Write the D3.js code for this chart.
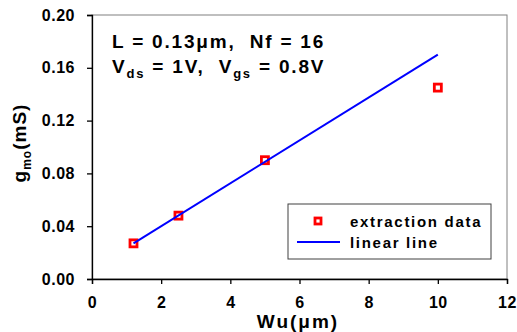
<!DOCTYPE html>
<html>
<head>
<meta charset="utf-8">
<script src="https://cdn.jsdelivr.net/npm/d3@7"></script>
<style>
  body { margin: 0; background: #fff; }
  svg { font-family: "Liberation Sans", Arial, sans-serif; font-weight: bold; }
  text { white-space: pre; }
</style>
</head>
<body>
<div id="chart"></div>
<script>
// extraction data (Wu in um, gmo in mS)
const wuValues = [1.2, 2.5, 5, 10];
const gmoValues = [0.027, 0.048, 0.09, 0.145];

// linear fit line end points
const lineWu = [1.2, 10];
const lineGmo = [0.027, 0.170];

const xTicks = [0, 2, 4, 6, 8, 10, 12];
const yTicks = [0, 0.04, 0.08, 0.12, 0.16, 0.20];

const W = 517, H = 332;
const margin = {top: 15, right: 10, bottom: 53, left: 92};
const width = W - margin.left - margin.right;
const height = H - margin.top - margin.bottom;

const svg = d3.select("#chart").append("svg")
    .attr("width", W)
    .attr("height", H);

const g = svg.append("g")
    .attr("transform", `translate(${margin.left},${margin.top})`);

const x = d3.scaleLinear().domain([0, 12]).range([0, width]);
const y = d3.scaleLinear().domain([0, 0.20]).range([height, 0]);

// plot frame
g.append("rect")
    .attr("width", width)
    .attr("height", height)
    .attr("fill", "none")
    .attr("stroke", "#808080")
    .attr("stroke-width", 1);

// axes
const xAxis = g.append("g")
    .attr("transform", `translate(0,${height})`)
    .call(d3.axisBottom(x).tickValues(xTicks).tickFormat(d3.format("d")).tickSize(5).tickPadding(13));

const yAxis = g.append("g")
    .call(d3.axisLeft(y).tickValues(yTicks).tickFormat(d3.format(".2f")).tickSize(5).tickPadding(12));

[xAxis, yAxis].forEach(a => {
    a.select(".domain").attr("stroke", "#000").attr("stroke-width", 1.3);
    a.selectAll(".tick line").attr("stroke", "#000").attr("stroke-width", 1.3);
    a.selectAll(".tick text")
        .attr("fill", "#000")
        .style("font-size", "16px")
        .style("font-weight", "bold")
        .style("font-family", "'Liberation Sans', Arial, sans-serif")
        .style("letter-spacing", "0.5px");
});

// markers
const pts = wuValues.map((d, i) => ({wu: d, gmo: gmoValues[i]}));
g.selectAll(".pt")
    .data(pts)
    .enter().append("rect")
    .attr("class", "pt")
    .attr("x", d => x(d.wu) - 3.5)
    .attr("y", d => y(d.gmo) - 3.5)
    .attr("width", 7)
    .attr("height", 7)
    .attr("fill", "#fff")
    .attr("stroke", "#ff0000")
    .attr("stroke-width", 2.8);

// linear line
const linePts = lineWu.map((d, i) => [d, lineGmo[i]]);
g.append("path")
    .datum(linePts)
    .attr("fill", "none")
    .attr("stroke", "#0000ff")
    .attr("stroke-width", 2)
    .attr("d", d3.line().x(d => x(d[0])).y(d => y(d[1])));

// annotation
const ann = svg.append("g").style("font-size", "19px").style("letter-spacing", "1.8px");
ann.append("text").attr("x", 112).attr("y", 48).text("L = 0.13\u03bcm,  Nf = 16");
const t2 = ann.append("text").attr("x", 112).attr("y", 73);
t2.append("tspan").text("V");
t2.append("tspan").attr("dy", 5).style("font-size", "13px").text("ds");
t2.append("tspan").attr("dy", -5).text(" = 1V,  V");
t2.append("tspan").attr("dy", 5).style("font-size", "13px").text("gs");
t2.append("tspan").attr("dy", -5).text(" = 0.8V");

// axis titles
svg.append("text")
    .attr("x", 298)
    .attr("y", 328)
    .attr("text-anchor", "middle")
    .style("font-size", "19px")
    .style("letter-spacing", "2px")
    .text("Wu(\u03bcm)");

const yl = svg.append("text")
    .attr("transform", "translate(26,143) rotate(-90)")
    .attr("text-anchor", "middle")
    .style("font-size", "19px")
    .style("letter-spacing", "1px");
yl.append("tspan").text("g");
yl.append("tspan").attr("dy", 5).style("font-size", "12px").text("mo");
yl.append("tspan").attr("dy", -5).text("(mS)");

// legend
const lg = svg.append("g");
lg.append("rect")
    .attr("x", 288).attr("y", 204)
    .attr("width", 203).attr("height", 55)
    .attr("fill", "#fff")
    .attr("stroke", "#404040")
    .attr("stroke-width", 1);
lg.append("rect")
    .attr("x", 315).attr("y", 218)
    .attr("width", 6).attr("height", 6)
    .attr("fill", "#fff")
    .attr("stroke", "#ff0000")
    .attr("stroke-width", 2.8);
lg.append("line")
    .attr("x1", 297).attr("x2", 340)
    .attr("y1", 242).attr("y2", 242)
    .attr("stroke", "#0000ff")
    .attr("stroke-width", 2);
lg.append("text").attr("x", 350).attr("y", 227)
    .style("font-size", "15px").style("letter-spacing", "1.7px")
    .text("extraction data");
lg.append("text").attr("x", 350).attr("y", 248)
    .style("font-size", "15px").style("letter-spacing", "1.7px")
    .text("linear line");
</script>
</body>
</html>
